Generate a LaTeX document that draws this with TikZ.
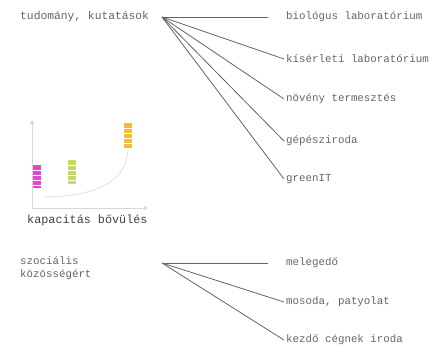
\documentclass[tikz,border=0pt]{standalone}
\usepackage{fontspec}
\setmonofont{Liberation Mono}
\usetikzlibrary{positioning,arrows.meta}
\definecolor{InkGray}{RGB}{100,100,100}
\definecolor{LineGray}{RGB}{100,100,100}
\definecolor{AxisGray}{RGB}{215,215,215}
\definecolor{BarPink}{RGB}{225,70,205}
\definecolor{BarGreen}{RGB}{195,220,95}
\definecolor{BarOrange}{RGB}{245,190,50}

\begin{document}
\begin{tikzpicture}[
    x=1pt, y=-1pt,
    label/.style={
        font=\ttfamily\fontsize{10.8}{12.5}\selectfont,
        text=InkGray, anchor=west, inner sep=2pt,
        align=left
    },
    branch/.style={LineGray, line width=0.8pt},
    axis/.style={AxisGray, line width=1pt, -{Triangle[length=4pt,width=4pt]}},
    bar/.style={draw=white, line width=0.4pt}
]
\useasboundingbox (0,0) rectangle (432,348);

% Kutatas ag
\node[label, font=\ttfamily\fontsize{11.3}{13}\selectfont] (science) at (18,17) {tudomány, kutatások};
\coordinate (hub1) at (162,17);

\node[label] (bio) at (284,17) {biológus laboratórium};
\node[label] (lab) at (284,59) {kísérleti laboratórium};
\node[label] (plant) at (284,99) {növény termesztés};
\node[label] (mech) at (284,141) {gépésziroda};
\node[label] (green) at (284,179) {greenIT};

\draw[branch, shorten >=16pt] (hub1) -- (bio.west);
\draw[branch] (hub1) -- (lab.west);
\draw[branch] (hub1) -- (plant.west);
\draw[branch] (hub1) -- (mech.west);
\draw[branch] (hub1) -- (green.west);

% Kapacitas abra
\coordinate (origin) at (32,208);
\coordinate (ytop) at (32,120);
\coordinate (xend) at (148,208);
\draw[axis] (origin) -- (ytop);
\draw[axis] (origin) -- (xend);
\draw[AxisGray!70, line width=1pt] (45,197) .. controls (100,196) and (126,180) .. (128,150);

\foreach \x/\ytop/\yb/\col in {33/165/188/BarPink, 68/160/184/BarGreen, 124/123/148/BarOrange}{
    \fill[\col] (\x,\ytop) rectangle (\x+8,\yb);
    \foreach \k in {1,2,3,4}
        \draw[bar] (\x,\ytop+\k*5) -- (\x+8,\ytop+\k*5);
}
\node[label, font=\ttfamily\fontsize{11.8}{14}\selectfont, text=black!75] (growth) at (25,220) {kapacitás bővülés};

% Szocialis ag
\node[label] (social) at (18,268) {szociális\\közösségért};
\coordinate (hub2) at (162,263);

\node[label] (warm) at (284,263) {melegedő};
\node[label] (laundry) at (284,302) {mosoda, patyolat};
\node[label] (office) at (284,340) {kezdő cégnek iroda};

\draw[branch, shorten >=16pt] (hub2) -- (warm.west);
\draw[branch] (hub2) -- (laundry.west);
\draw[branch] (hub2) -- (office.west);

\end{tikzpicture}
\end{document}
